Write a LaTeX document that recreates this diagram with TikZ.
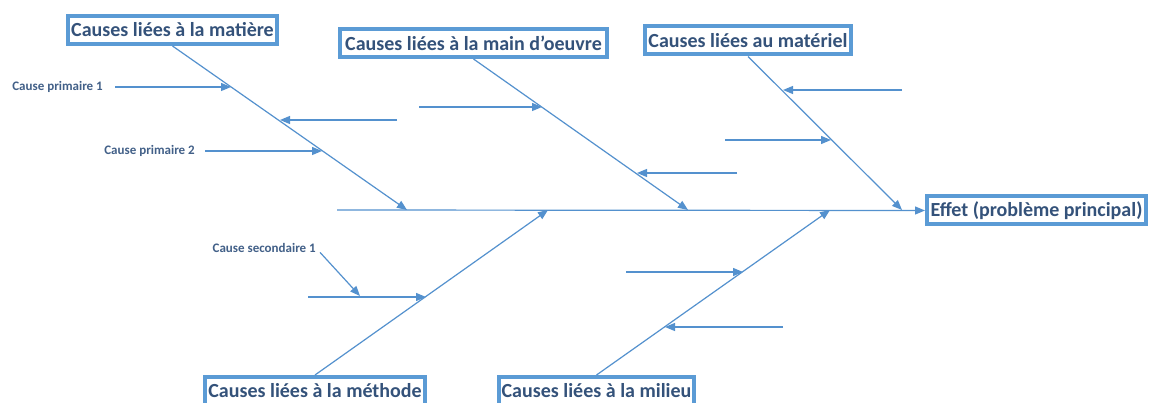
\documentclass[tikz,border=0pt]{standalone}
\usepackage{fontspec}
\setmainfont{Carlito}
\usetikzlibrary{arrows.meta}
\definecolor{boxblue}{RGB}{91,155,213}
\definecolor{lineblue}{RGB}{84,145,206}
\definecolor{txtblue}{RGB}{52,82,122}
\definecolor{lbltxt}{RGB}{66,96,136}
\begin{document}
\begin{tikzpicture}[x=1pt,y=-1pt,
  catbox/.style={draw=boxblue,line width=4pt,text=txtblue,font=\fontsize{20}{22}\selectfont\bfseries,inner sep=0pt,minimum height=28pt},
  lbl/.style={text=lbltxt,font=\fontsize{13}{14}\selectfont\bfseries,inner sep=0pt},
  conn/.style={draw=lineblue,line width=1.2pt,-{Triangle[length=10pt,width=8pt]}},
  plain/.style={draw=lineblue,line width=1.2pt}]
\clip (0,0) rectangle (1151,403);
\fill[white] (0,0) rectangle (1151,403);
% category boxes
\node[catbox,minimum width=209pt] (mat) at (172.5,30) {Causes liées à la matière};
\node[catbox,minimum width=267pt] (mo) at (473.5,43) {Causes liées à la main d’oeuvre};
\node[catbox,minimum width=206pt] (mtl) at (748,40.5) {Causes liées au matériel};
\node[catbox,minimum width=219pt] (eff) at (1036.5,210.5) {Effet (problème principal)};
\node[catbox,minimum width=220pt] (meth) at (315,391) {Causes liées à la méthode};
\node[catbox,minimum width=195pt] (mil) at (596.5,391) {Causes liées à la milieu};
% spine
\coordinate (sp0) at (337,210);
\coordinate (s1) at (407,210);
\coordinate (s2) at (688,210);
\coordinate (s3) at (902,210);
\coordinate (s4) at (548,210);
\coordinate (s5) at (830,210);
\draw[conn] (sp0) -- (eff.west);
% bones
\draw[conn] (mat.south) -- (s1);
\draw[conn] (mo.south) -- (s2);
\draw[conn] (mtl.south) -- (s3);
\draw[conn] (meth.north) -- (s4);
\draw[conn] (mil.north) -- (s5);
% labels
\node[lbl,anchor=east] (cp1) at (103,87) {Cause primaire 1};
\node[lbl,anchor=east] (cp2) at (195,151) {Cause primaire 2};
\node[lbl,anchor=east] (cs1) at (316,248) {Cause secondaire 1};
% sub-causes on matiere
\coordinate (t1) at (231,87);
\draw[conn,shorten <=12pt] (cp1.east) -- (t1);
\coordinate (a2s) at (397,120); \coordinate (t2) at (280,120);
\draw[conn] (a2s) -- (t2);
\coordinate (t3) at (322,151);
\draw[conn,shorten <=10pt] (cp2.east) -- (t3);
% main d'oeuvre
\coordinate (a4s) at (419,107); \coordinate (t4) at (542,107);
\draw[conn] (a4s) -- (t4);
\coordinate (a5s) at (737,173); \coordinate (t5) at (637,173);
\draw[conn] (a5s) -- (t5);
% materiel
\coordinate (a6s) at (902,90); \coordinate (t6) at (783,90);
\draw[conn] (a6s) -- (t6);
\coordinate (a7s) at (725,140); \coordinate (t7) at (831,140);
\draw[conn] (a7s) -- (t7);
% methode
\coordinate (a8s) at (308,297); \coordinate (t8) at (426,297);
\draw[conn] (a8s) -- (t8);
\coordinate (t9) at (360,296);
\draw[conn,shorten <=6pt] (cs1.east) -- (t9);
% milieu
\coordinate (a10s) at (626,272); \coordinate (t10) at (743,272);
\draw[conn] (a10s) -- (t10);
\coordinate (a11s) at (783,327); \coordinate (t11) at (665,327);
\draw[conn] (a11s) -- (t11);
\end{tikzpicture}
\end{document}
